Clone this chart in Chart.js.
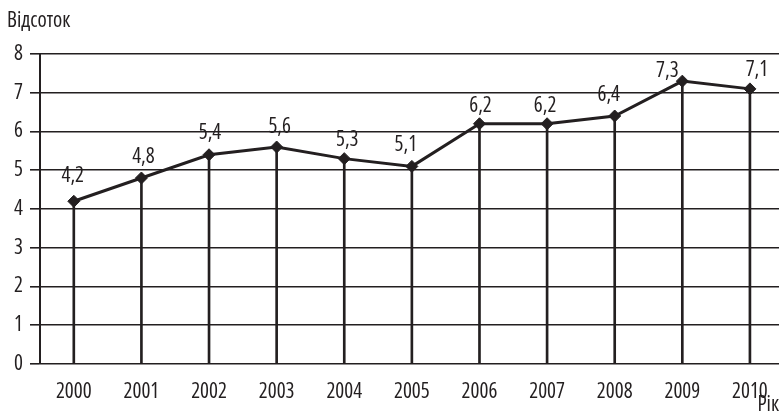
<!DOCTYPE html>
<html>
<head>
<meta charset="utf-8">
<script src="https://cdn.jsdelivr.net/npm/chart.js@4"></script>
<style>
html,body{margin:0;padding:0;background:#fff;overflow:hidden;}
#wrap{width:779px;height:414px;position:relative;}
</style>
</head>
<body>
<div id="wrap"><canvas id="c" width="779" height="414"></canvas></div>
<script>
const years = ['2000','2001','2002','2003','2004','2005','2006','2007','2008','2009','2010'];
const values = [4.2, 4.8, 5.4, 5.6, 5.3, 5.1, 6.2, 6.2, 6.4, 7.3, 7.1];
const valueLabels = ['4,2','4,8','5,4','5,6','5,3','5,1','6,2','6,2','6,4','7,3','7,1'];
const yTicks = [0,1,2,3,4,5,6,7,8];
const yTitle = 'Відсоток';
const xTitle = 'Рік';

const INK = '#231f20';
const FAMILY = '"Open Sans", "DejaVu Sans", sans-serif';
const STRETCH = '400 condensed';
// label offsets (dx, dy) relative to each point
const labelDX = [-1, 2, 1, 3, 3, -6, 1, -2, -6, -15, 7];
const labelDY = [-25, -21, -22, -20, -19, -21, -18, -18, -21, -10, -19];

const pts = years.map((y, i) => ({x: Number(y), y: values[i]}));

const textPlugin = {
  id: 'texts',
  afterDatasetsDraw(chart) {
    const ctx = chart.ctx;
    ctx.save();
    ctx.fillStyle = INK;
    ctx.font = STRETCH + ' 21px ' + FAMILY;
    ctx.textAlign = 'center';
    ctx.textBaseline = 'middle';
    const meta = chart.getDatasetMeta(1);
    meta.data.forEach((p, i) => {
      ctx.fillText(valueLabels[i], p.x + labelDX[i], p.y + labelDY[i]);
    });
    ctx.font = STRETCH + ' 21px ' + FAMILY;
    ctx.textAlign = 'left';
    ctx.fillText(yTitle, 7, 21);
    ctx.textAlign = 'right';
    ctx.fillText(xTitle, 779, 405);
    ctx.restore();
  }
};

new Chart(document.getElementById('c'), {
  data: {
    datasets: [
      {
        type: 'bar',
        data: pts,
        backgroundColor: INK,
        borderWidth: 0,
        barThickness: 2,
        order: 2
      },
      {
        type: 'line',
        data: pts,
        borderColor: INK,
        borderWidth: 3,
        tension: 0,
        pointStyle: 'rectRot',
        pointRadius: 6,
        pointHoverRadius: 6,
        pointBackgroundColor: INK,
        pointBorderColor: INK,
        pointBorderWidth: 1,
        order: 1
      }
    ]
  },
  options: {
    responsive: false,
    animation: false,
    events: [],
    layout: {autoPadding: false, padding: {left: 0, right: 0, top: 54, bottom: 0}},
    plugins: {legend: {display: false}, tooltip: {enabled: false}},
    scales: {
      x: {
        type: 'linear',
        offset: false,
        min: 1999.5,
        max: 2010.43,
        grid: {display: false, drawTicks: false, offset: false},
        border: {display: false},
        afterBuildTicks(scale) { scale.ticks = years.map(y => ({value: Number(y)})); },
        afterFit(scale) { scale.height = 50; scale.paddingLeft = 0; scale.paddingRight = 0; },
        ticks: {
          autoSkip: false,
          maxRotation: 0,
          padding: 0,
          color: INK,
          font: {family: FAMILY, weight: STRETCH, size: 21, lineHeight: 2.65},
          callback: (v) => String(v)
        }
      },
      y: {
        type: 'linear',
        min: 0,
        max: 8,
        afterBuildTicks(scale) { scale.ticks = yTicks.map(v => ({value: v})); },
        afterFit(scale) { scale.width = 40; },
        grid: {color: INK, lineWidth: 1.6, tickLength: 10, drawTicks: true},
        border: {display: true, color: INK, width: 2},
        ticks: {
          padding: 7,
          color: INK,
          font: {family: FAMILY, weight: STRETCH, size: 21},
          callback: (v) => String(v)
        }
      }
    }
  },
  plugins: [textPlugin]
});
</script>
</body>
</html>
